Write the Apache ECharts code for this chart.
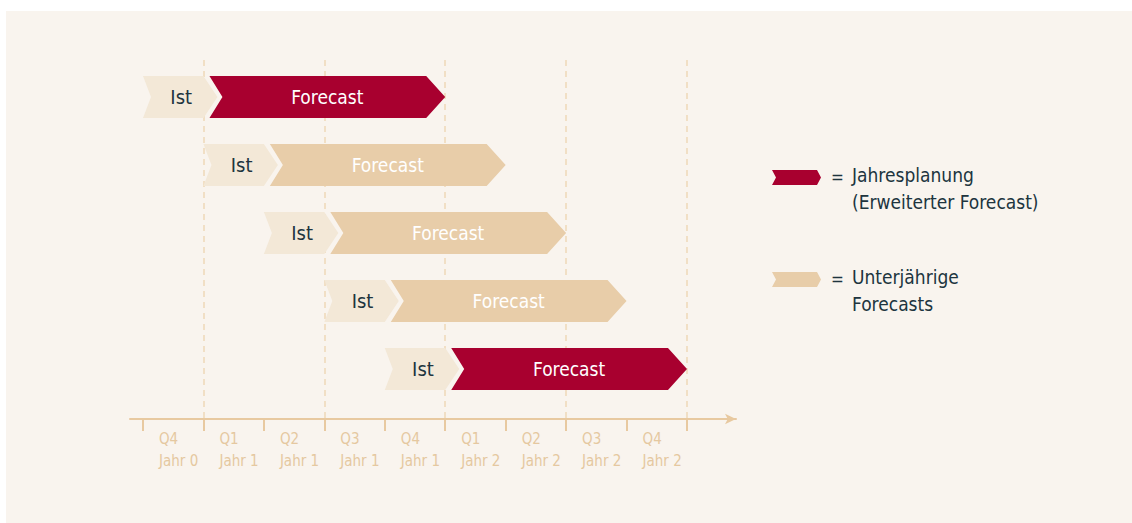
<!DOCTYPE html>
<html>
<head>
<meta charset="utf-8">
<script src="https://cdn.jsdelivr.net/npm/echarts@6/dist/echarts.min.js"></script>
<style>
  html, body { margin: 0; padding: 0; background: #ffffff; }
  #panel { position: absolute; left: 6px; top: 11px; width: 1126px; height: 512px; background: #f9f4ee; }
  #chart { position: absolute; left: 0; top: 0; width: 1132px; height: 523px; }
</style>
</head>
<body>
<div id="panel"></div>
<div id="chart"></div>
<script>
// ---- data ----
const quarterLabels = ['Q4', 'Q1', 'Q2', 'Q3', 'Q4', 'Q1', 'Q2', 'Q3', 'Q4'];
const yearLabels = ['Jahr 0', 'Jahr 1', 'Jahr 1', 'Jahr 1', 'Jahr 1', 'Jahr 2', 'Jahr 2', 'Jahr 2', 'Jahr 2'];
const tickValues = [0, 1, 2, 3, 4, 5, 6, 7, 8, 9];
const labelValues = [0, 1, 2, 3, 4, 5, 6, 7, 8];
const gridLineValues = [1, 3, 5, 7, 9];
const rows = [0, 1, 2, 3, 4];
const istStart = [0, 1, 2, 3, 4];
const istEnd = [1, 2, 3, 4, 5];
const forecastEnd = [5, 6, 7, 8, 9];
const forecastType = ['plan', 'uj', 'uj', 'uj', 'plan'];
const istText = 'Ist';
const forecastText = 'Forecast';
const legendTypes = ['plan', 'uj'];
const legendLines = [['Jahresplanung', '(Erweiterter Forecast)'], ['Unterjährige', 'Forecasts']];

// ---- styles ----
const FONT = '"DejaVu Sans Condensed", "Liberation Sans Narrow", sans-serif';
const COLORS = { plan: '#a8002f', uj: '#e8cda9', ist: '#f3e8d7', axis: '#e8c9a0', label: '#e5c8a0', grid: '#eed7b8', dark: '#20343e' };

const chart = echarts.init(document.getElementById('chart'), null, { renderer: 'svg' });

const data = rows.map((r, i) => [r, istStart[i], istEnd[i], forecastEnd[i]]);

function renderItem(params, api) {
  const i = params.dataIndex;
  const row = api.value(0);
  const p0 = api.coord([api.value(1), row]);
  const p1 = api.coord([api.value(2), row]);
  const p2 = api.coord([api.value(3), row]);
  const cy = p0[1];
  const h = 21;
  const istTip = 14, istNotch = 8, gap = 6, fcNotch = 13, fcTip = 19;
  const fx0 = p1[0] + gap;
  return {
    type: 'group',
    children: [
      { type: 'polygon', shape: { points: [[p0[0], cy - h], [p1[0], cy - h], [p1[0] + istTip, cy], [p1[0], cy + h], [p0[0], cy + h], [p0[0] + istNotch, cy]] }, style: { fill: COLORS.ist } },
      { type: 'text', style: { text: istText, x: (p0[0] + p1[0] + istTip) / 2 + 1, y: cy, align: 'center', verticalAlign: 'middle', fill: COLORS.dark, fontSize: 20, fontFamily: FONT } },
      { type: 'polygon', shape: { points: [[fx0, cy - h], [p2[0] - fcTip, cy - h], [p2[0], cy], [p2[0] - fcTip, cy + h], [fx0, cy + h], [fx0 + fcNotch, cy]] }, style: { fill: COLORS[forecastType[i]] } },
      { type: 'text', style: { text: forecastText, x: (fx0 + p2[0]) / 2, y: cy, align: 'center', verticalAlign: 'middle', fill: '#ffffff', fontSize: 19, fontFamily: FONT } }
    ]
  };
}

// legend graphics
const legendTop = [170, 272];
const legendGraphics = [];
legendTypes.forEach((t, k) => {
  const y = legendTop[k];
  legendGraphics.push({ type: 'polygon', left: 772, top: y, shape: { points: [[0, 0], [45, 0], [49, 7.5], [45, 15], [0, 15], [4, 7.5]] }, style: { fill: COLORS[t] } });
  legendGraphics.push({ type: 'text', left: 831, top: y - 2, style: { text: '=', fill: COLORS.dark, fontSize: 17, fontFamily: FONT } });
  legendLines[k].forEach((line, j) => {
    legendGraphics.push({ type: 'text', left: 852, top: y - 5 + j * 27, style: { text: line, fill: COLORS.dark, fontSize: 19, fontFamily: FONT } });
  });
});

chart.setOption({
  backgroundColor: 'transparent',
  animation: false,
  grid: { left: 130, right: 396, top: 60, bottom: 104, containLabel: false },
  xAxis: {
    type: 'value', min: -0.215, max: 9.811,
    axisLine: { show: true, onZero: false, symbol: ['none', 'arrow'], symbolSize: [8, 11], lineStyle: { color: COLORS.axis, width: 2 } },
    axisTick: { show: true, customValues: tickValues, length: 12, lineStyle: { color: COLORS.axis, width: 2 } },
    axisLabel: {
      customValues: labelValues, align: 'left', padding: [0, 0, 0, 16], margin: 9,
      color: COLORS.label, fontSize: 15, lineHeight: 22, fontFamily: FONT,
      formatter: v => quarterLabels[v] + '\n' + yearLabels[v]
    },
    splitLine: { show: false }
  },
  yAxis: { type: 'value', min: -0.544, max: 4.735, inverse: true, show: false, splitLine: { show: false } },
  graphic: legendGraphics,
  series: [
    {
      type: 'scatter', data: [], z: 1, silent: true,
      markLine: {
        z: 1, silent: true, symbol: ['none', 'none'], label: { show: false },
        lineStyle: { color: COLORS.grid, type: [6, 5], width: 1.5 },
        data: gridLineValues.map(v => ({ xAxis: v }))
      }
    },
    { type: 'custom', z: 3, renderItem: renderItem, encode: { x: [1, 2, 3], y: 0 }, data: data }
  ]
});
</script>
</body>
</html>
